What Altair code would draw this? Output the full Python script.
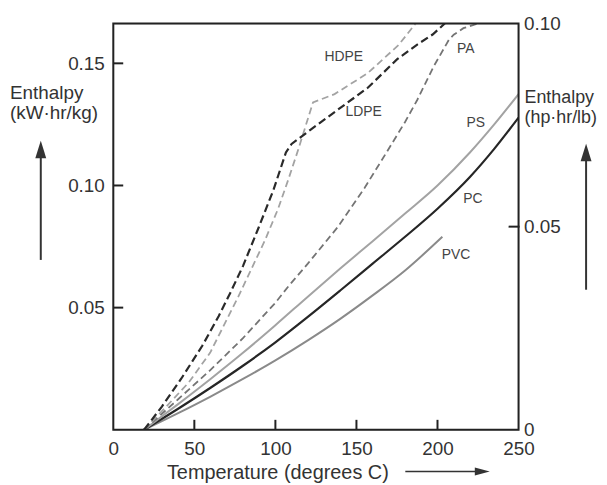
import altair as alt
import pandas as pd

# ---------------- data ----------------
X_TICKS = [0, 50, 100, 150, 200, 250]
Y_TICKS_LEFT = [0.05, 0.10, 0.15]
Y_TICKS_RIGHT = [0, 0.05, 0.10]
YMAX_LEFT = 0.1663          # kW·hr/kg at top of frame
YMAX_RIGHT = 0.10           # hp·hr/lb at top of frame

LDPE_T = [19, 30, 42, 55, 65, 72, 80, 89.5, 98.7, 106.5, 110, 122, 138.5, 157, 175, 187.5, 197, 204.5]
LDPE_H = [0, 0.0095, 0.021, 0.0345, 0.0465, 0.0558, 0.067, 0.0825, 0.098, 0.1135, 0.117, 0.123, 0.131, 0.140, 0.1516, 0.1577, 0.1618, 0.1663]

HDPE_T = [19, 32, 46.6, 59.8, 77.2, 93.6, 101.7, 108, 114, 123.2, 136.5, 157, 176, 186.5]
HDPE_H = [0, 0.009, 0.0194, 0.0316, 0.0546, 0.0776, 0.0905, 0.1025, 0.1145, 0.134, 0.1374, 0.146, 0.1575, 0.1663]

PA_T = [19, 40, 60, 80, 100, 108, 120, 138.5, 155, 169, 180, 187.5, 197.7, 207, 210, 216, 225]
PA_H = [0, 0.0125, 0.0245, 0.0375, 0.052, 0.0587, 0.068, 0.083, 0.099, 0.114, 0.126, 0.135, 0.1488, 0.1596, 0.1617, 0.1644, 0.1663]

PS_T = [19, 40, 60, 80, 100, 120, 140, 160, 180, 200, 220, 235, 250]
PS_H = [0, 0.0105, 0.0208, 0.0315, 0.0428, 0.0545, 0.0660, 0.0772, 0.0885, 0.1000, 0.1135, 0.1250, 0.1374]

PC_T = [19, 40, 60, 80, 100, 120, 140, 160, 180, 200, 220, 235, 250]
PC_H = [0, 0.0086, 0.0172, 0.0262, 0.0358, 0.0462, 0.0570, 0.0680, 0.0790, 0.0905, 0.1035, 0.1150, 0.1278]

PVC_T = [19, 40, 60, 80, 100, 120, 140, 160, 180, 203]
PVC_H = [0, 0.0068, 0.0136, 0.0208, 0.0284, 0.0366, 0.0454, 0.0550, 0.0652, 0.0790]

SERIES_NAMES = ["HDPE", "LDPE", "PA", "PS", "PC", "PVC"]
SERIES_DATA = {
    "LDPE": (LDPE_T, LDPE_H),
    "HDPE": (HDPE_T, HDPE_H),
    "PA": (PA_T, PA_H),
    "PS": (PS_T, PS_H),
    "PC": (PC_T, PC_H),
    "PVC": (PVC_T, PVC_H),
}
# label anchor points (data coordinates)
LABEL_T = [142.2, 154.4, 217.5, 223.6, 221.8, 211.4]
LABEL_H = [0.1524, 0.1301, 0.1557, 0.1254, 0.0943, 0.0715]

LEFT_TITLE = ["Enthalpy", "(kW·hr/kg)"]
RIGHT_TITLE = ["Enthalpy", "(hp·hr/lb)"]
X_TITLE = "Temperature (degrees C)"

# ---------------- styles ----------------
W, H = 408, 409
FONT = "Liberation Sans"
TXT = "#333333"
FRAME = "#222222"
STYLE = {
    "LDPE": dict(color="#2a2a2a", strokeDash=[8, 4], strokeWidth=2.2, interpolate="linear"),
    "HDPE": dict(color="#a3a3a3", strokeDash=[7, 4], strokeWidth=1.8, interpolate="linear"),
    "PA": dict(color="#747474", strokeDash=[7, 4], strokeWidth=1.8, interpolate="linear"),
    "PS": dict(color="#a3a3a3", strokeWidth=2, interpolate="monotone"),
    "PC": dict(color="#262626", strokeWidth=2.2, interpolate="monotone"),
    "PVC": dict(color="#8a8a8a", strokeWidth=2, interpolate="monotone"),
}


def x_enc():
    return alt.X("T:Q", scale=alt.Scale(domain=[0, 250], nice=False, zero=False),
                 axis=alt.Axis(values=X_TICKS, format="d", ticks=False, domain=False, grid=False,
                               labelFontSize=19, labelPadding=10, labelFlush=False,
                               labelColor=TXT, labelFont=FONT, title=None))


def y_enc():
    return alt.Y("H:Q", scale=alt.Scale(domain=[0, YMAX_LEFT], nice=False, zero=False),
                 axis=alt.Axis(values=Y_TICKS_LEFT, format=".2f", ticks=False, domain=False, grid=False,
                               labelFontSize=19, labelPadding=9, labelColor=TXT, labelFont=FONT,
                               title=None))


layers = []
for name in ["PVC", "PC", "PS", "PA", "HDPE", "LDPE"]:
    t, h = SERIES_DATA[name]
    df = pd.DataFrame({"T": t, "H": h})
    layers.append(alt.Chart(df).mark_line(clip=True, **STYLE[name])
                  .encode(x=x_enc(), y=y_enc()))

# frame
one = pd.DataFrame({"a": [0]})
layers.append(alt.Chart(one).mark_rect(filled=False, stroke=FRAME, strokeWidth=2)
              .encode(x=alt.value(0), x2=alt.value(W), y=alt.value(0), y2=alt.value(H)))

# inward ticks
layers.append(alt.Chart(pd.DataFrame({"H": Y_TICKS_LEFT})).mark_rule(color=FRAME, strokeWidth=2)
              .encode(y=y_enc(), x=alt.value(0), x2=alt.value(10)))
layers.append(alt.Chart(pd.DataFrame({"T": X_TICKS[1:-1]})).mark_rule(color=FRAME, strokeWidth=2)
              .encode(x=x_enc(), y=alt.value(H), y2=alt.value(H - 10)))

# curve labels
lab = pd.DataFrame({"name": SERIES_NAMES, "T": LABEL_T, "H": LABEL_H})
layers.append(alt.Chart(lab).mark_text(font=FONT, fontSize=14, color="#444444")
              .encode(x=x_enc(), y=y_enc(), text="name:N"))

# axis titles as text
for i, line in enumerate(LEFT_TITLE):
    layers.append(alt.Chart(pd.DataFrame({"t": [line]}))
                  .mark_text(font=FONT, fontSize=19, color=TXT, align="left", baseline="alphabetic")
                  .encode(text="t:N", x=alt.value(-104), y=alt.value(76 + 20 * i)))
for i, line in enumerate(RIGHT_TITLE):
    layers.append(alt.Chart(pd.DataFrame({"t": [line]}))
                  .mark_text(font=FONT, fontSize=18, color=TXT, align="left", baseline="alphabetic")
                  .encode(text="t:N", x=alt.value(414), y=alt.value(80 + 20 * i)))
layers.append(alt.Chart(pd.DataFrame({"t": [X_TITLE]}))
              .mark_text(font=FONT, fontSize=20, color=TXT, align="left", baseline="alphabetic")
              .encode(text="t:N", x=alt.value(54), y=alt.value(459)))

# arrows
ARROW = "#333333"
UP = "M0,-1L0.5,0.6L-0.5,0.6Z"
RIGHT = "M1,0L-1,0.55L-1,-0.55Z"
layers.append(alt.Chart(one).mark_rule(color=ARROW, strokeWidth=2)
              .encode(x=alt.value(-73), y=alt.value(238), y2=alt.value(135)))
layers.append(alt.Chart(one).mark_point(shape=UP, filled=True, size=484, color=ARROW, opacity=1)
              .encode(x=alt.value(-73), y=alt.value(129)))
layers.append(alt.Chart(one).mark_rule(color=ARROW, strokeWidth=2)
              .encode(x=alt.value(476), y=alt.value(268), y2=alt.value(138)))
layers.append(alt.Chart(one).mark_point(shape=UP, filled=True, size=484, color=ARROW, opacity=1)
              .encode(x=alt.value(476), y=alt.value(132)))
layers.append(alt.Chart(one).mark_rule(color=ARROW, strokeWidth=1.5)
              .encode(y=alt.value(451), x=alt.value(294), x2=alt.value(366)))
layers.append(alt.Chart(one).mark_point(shape=RIGHT, filled=True, size=225, color=ARROW, opacity=1)
              .encode(y=alt.value(451), x=alt.value(371.5)))

inner = alt.layer(*layers)

right = alt.Chart(pd.DataFrame({"R": [0.05]})).mark_rule(color=FRAME, strokeWidth=2).encode(
    y=alt.Y("R:Q", scale=alt.Scale(domain=[0, YMAX_RIGHT], nice=False, zero=False),
            axis=alt.Axis(orient="right", values=Y_TICKS_RIGHT,
                          labelExpr="datum.value == 0 ? '0' : format(datum.value, '.2f')",
                          ticks=False, domain=False, grid=False, labelFontSize=19, labelPadding=5,
                          labelColor=TXT, labelFont=FONT, title=None)),
    x=alt.value(W - 10), x2=alt.value(W + 1))

chart = (alt.layer(inner, right)
         .resolve_scale(y="independent")
         .properties(width=W, height=H,
                     padding={"left": 106, "top": 14, "right": 81, "bottom": 57},
                     autosize=alt.AutoSizeParams(type="none"))
         .configure_view(stroke=FRAME, strokeWidth=2)
         .configure(background="white"))

chart.save("out.html", embed_options={"renderer": "svg", "actions": False})
